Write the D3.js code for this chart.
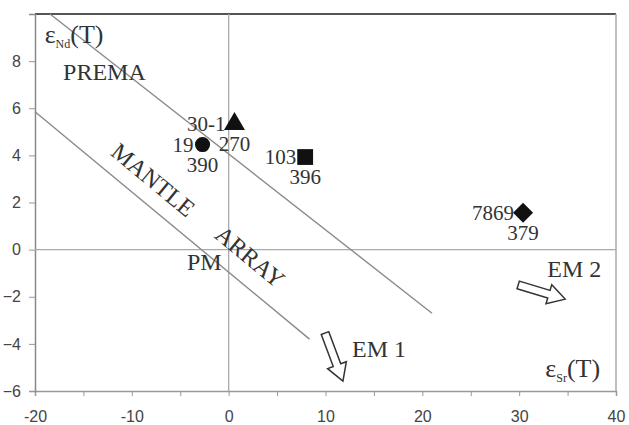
<!DOCTYPE html>
<html>
<head>
<meta charset="utf-8">
<script src="https://cdn.jsdelivr.net/npm/d3@7"></script>
<style>
  html, body { margin: 0; padding: 0; background: #fff; }
  svg { display: block; }
</style>
</head>
<body>
<svg id="chart" width="629" height="425"></svg>
<script>
// Sample points: εSr(T) vs εNd(T)
const sampleIds   = ["30-1", "19", "103", "7869"];
const sampleAges  = ["270", "390", "396", "379"];
const epsSr       = [0.6, -2.7, 7.9, 30.4];
const epsNd       = [5.33, 4.46, 3.93, 1.57];
const sampleShape = ["triangle", "circle", "square", "diamond"];

// Reference lines bounding the mantle array (εSr, εNd endpoints)
const upperLine = [[-18.45, 10], [21.0, -2.7]];
const lowerLine = [[-20, 5.85], [8.35, -3.8]];

// Enrichment trend arrows (tail -> tip)
const em2Arrow = [[29.9, -1.5], [34.75, -2.1]];
const em1Arrow = [[9.95, -3.54], [11.8, -5.58]];

// Axis ticks
const xTicks = [-20, -15, -10, -5, 0, 5, 10, 15, 20, 25, 30, 35, 40];
const xTickLabels = [-20, -10, 0, 10, 20, 30, 40];
const yTicks = [-6, -4, -2, 0, 2, 4, 6, 8];

const svg = d3.select("#chart");
const margin = { left: 35, right: 13, top: 14, bottom: 34 };
const W = 629, H = 425;

const x = d3.scaleLinear().domain([-20, 40]).range([margin.left, W - margin.right]);
const y = d3.scaleLinear().domain([-6, 10]).range([H - margin.bottom, margin.top]);

const serif = "'Liberation Serif', 'Times New Roman', serif";
const sans = "'Liberation Sans', Arial, sans-serif";

// Frame: top and right edges
svg.append("line")
  .attr("x1", x(-20)).attr("x2", x(40)).attr("y1", y(10)).attr("y2", y(10))
  .attr("stroke", "#555").attr("stroke-width", 2);
svg.append("line")
  .attr("x1", x(40)).attr("x2", x(40)).attr("y1", y(10)).attr("y2", y(-6))
  .attr("stroke", "#aaa").attr("stroke-width", 1.5);

// Bottom axis
const xAxis = d3.axisBottom(x).tickValues(xTicks).tickSize(5)
  .tickFormat(d => xTickLabels.includes(d) ? String(d) : "");
const gx = svg.append("g").attr("transform", `translate(0,${y(-6)})`).call(xAxis);
gx.select(".domain").attr("stroke", "#999").attr("stroke-width", 1.5);
gx.selectAll(".tick line").attr("stroke", "#999");
gx.selectAll(".tick text")
  .attr("font-family", sans).attr("font-size", 16).attr("fill", "#444")
  .attr("y", 31).attr("dy", null);

// Left axis
const yAxis = d3.axisLeft(y).tickValues(yTicks).tickSize(6).tickPadding(8);
const gy = svg.append("g").attr("transform", `translate(${x(-20)},0)`).call(yAxis);
gy.select(".domain").attr("stroke", "#888").attr("stroke-width", 1.5);
gy.selectAll(".tick line").attr("stroke", "#999");
gy.selectAll(".tick text")
  .attr("font-family", sans).attr("font-size", 16).attr("fill", "#444");

// Zero lines
svg.append("line")
  .attr("x1", x(-20)).attr("x2", x(40)).attr("y1", y(0)).attr("y2", y(0))
  .attr("stroke", "#aaa").attr("stroke-width", 1.3);
svg.append("line")
  .attr("x1", x(0)).attr("x2", x(0)).attr("y1", y(10)).attr("y2", y(-6))
  .attr("stroke", "#aaa").attr("stroke-width", 1.3);

// Mantle array boundary lines
const lineGen = d3.line().x(d => x(d[0])).y(d => y(d[1]));
[upperLine, lowerLine].forEach(seg => {
  svg.append("path").attr("d", lineGen(seg))
    .attr("fill", "none").attr("stroke", "#8a8a8a").attr("stroke-width", 1.4);
});

// Hollow arrows
function hollowArrow(seg) {
  const x0 = x(seg[0][0]), y0 = y(seg[0][1]);
  const x1 = x(seg[1][0]), y1 = y(seg[1][1]);
  const len = Math.hypot(x1 - x0, y1 - y0);
  const ux = (x1 - x0) / len, uy = (y1 - y0) / len;
  const nx = -uy, ny = ux;
  const sw = 4, hw = 10, hl = 17;
  const bx = x1 - ux * hl, by = y1 - uy * hl;
  const pts = [
    [x0 + nx * sw, y0 + ny * sw],
    [bx + nx * sw, by + ny * sw],
    [bx + nx * hw, by + ny * hw],
    [x1, y1],
    [bx - nx * hw, by - ny * hw],
    [bx - nx * sw, by - ny * sw],
    [x0 - nx * sw, y0 - ny * sw]
  ];
  svg.append("polygon")
    .attr("points", pts.map(p => p.join(",")).join(" "))
    .attr("fill", "#fff").attr("stroke", "#333").attr("stroke-width", 1.5)
    .attr("stroke-linejoin", "miter");
}
hollowArrow(em2Arrow);
hollowArrow(em1Arrow);

// Sample markers (the diamond is a square turned by 45°)
const symbolTypes = {
  triangle: d3.symbolTriangle,
  circle: d3.symbolCircle,
  square: d3.symbolSquare,
  diamond: d3.symbolSquare
};
const symbolSizes = { triangle: 190, circle: 180, square: 250, diamond: 200 };
const samples = sampleIds.map((id, i) => ({
  id, age: sampleAges[i], sr: epsSr[i], nd: epsNd[i], shape: sampleShape[i]
}));
const g = svg.selectAll("g.sample").data(samples).enter().append("g")
  .attr("class", "sample")
  .attr("transform", d => `translate(${x(d.sr)},${y(d.nd)})`);
g.append("path")
  .attr("d", d => d3.symbol().type(symbolTypes[d.shape]).size(symbolSizes[d.shape])())
  .attr("transform", d => d.shape === "diamond" ? "rotate(45)" : null)
  .attr("fill", "#111");
g.append("text")
  .attr("x", -9).attr("y", 7)
  .attr("text-anchor", "end")
  .attr("font-family", serif).attr("font-size", 21).attr("fill", "#333")
  .text(d => d.id);
g.append("text")
  .attr("x", 0).attr("y", 27)
  .attr("text-anchor", "middle")
  .attr("font-family", serif).attr("font-size", 21).attr("fill", "#333")
  .text(d => d.age);

// Text annotations
const annotations = [
  { text: "PREMA", sr: -17.1, nd: 7.2 },
  { text: "PM", sr: -4.3, nd: -0.87 },
  { text: "EM 2", sr: 32.9, nd: -1.16 },
  { text: "EM 1", sr: 12.74, nd: -4.56 }
];
svg.selectAll("text.ann").data(annotations).enter().append("text")
  .attr("class", "ann")
  .attr("x", d => x(d.sr)).attr("y", d => y(d.nd))
  .attr("font-family", serif).attr("font-size", 24).attr("fill", "#333")
  .text(d => d.text);

// Labels running along the mantle array
const angle = Math.atan2(y(lowerLine[1][1]) - y(lowerLine[0][1]),
                         x(lowerLine[1][0]) - x(lowerLine[0][0])) * 180 / Math.PI;
const arrayLabels = [
  { text: "MANTLE", sr: -7.8, nd: 2.95 },
  { text: "ARRAY", sr: 2.2, nd: -0.31 }
];
svg.selectAll("text.arr").data(arrayLabels).enter().append("text")
  .attr("class", "arr")
  .attr("transform", d => `translate(${x(d.sr)},${y(d.nd)}) rotate(${angle})`)
  .attr("text-anchor", "middle").attr("dy", "0.33em")
  .attr("font-family", serif).attr("font-size", 24).attr("fill", "#333")
  .text(d => d.text);

// Axis titles: εNd(T) and εSr(T)
function epsTitle(sub, sr, nd) {
  const t = svg.append("text")
    .attr("x", x(sr)).attr("y", y(nd))
    .attr("font-family", serif).attr("font-size", 26).attr("fill", "#333");
  t.append("tspan").text("ε");
  t.append("tspan").attr("font-size", 12).attr("dy", 5).text(sub);
  t.append("tspan").attr("dy", -5).text("(T)");
}
epsTitle("Nd", -19.0, 8.77);
epsTitle("Sr", 32.7, -5.41);
</script>
</body>
</html>
